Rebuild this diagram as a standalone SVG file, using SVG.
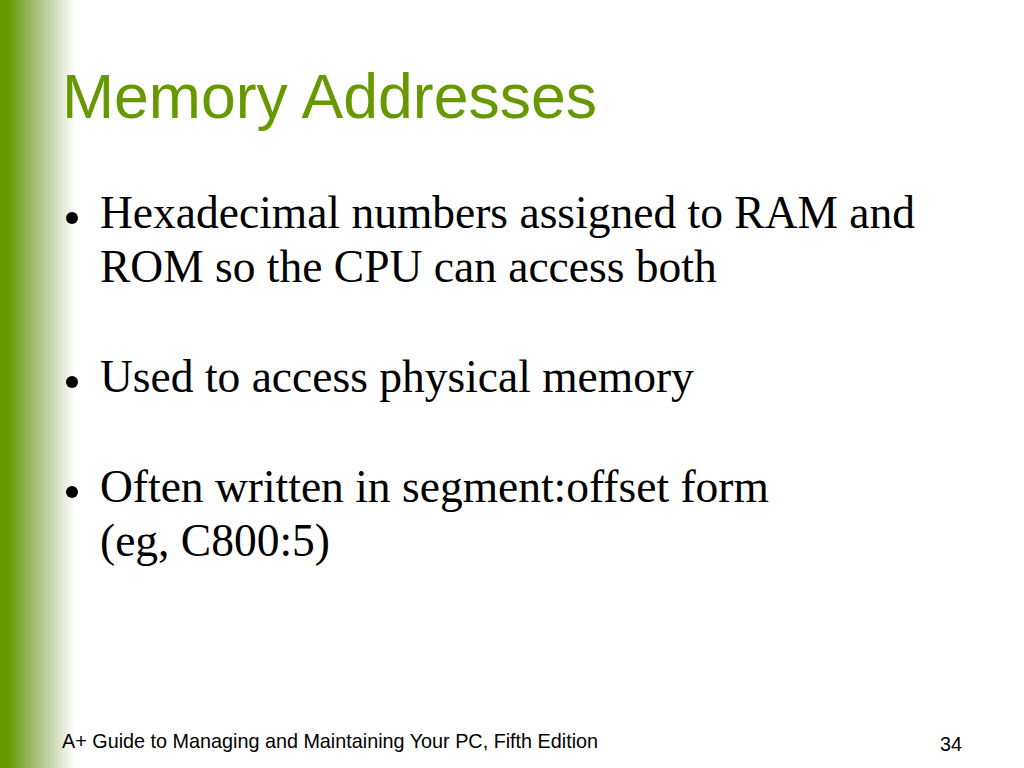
<svg xmlns="http://www.w3.org/2000/svg" width="1024" height="768" viewBox="0 0 1024 768">
<defs>
<linearGradient id="side" x1="0" y1="0" x2="1" y2="0">
<stop offset="0" stop-color="#669900"/>
<stop offset="0.1" stop-color="#669900"/>
<stop offset="0.5" stop-color="#a8c080"/>
<stop offset="1" stop-color="#ffffff"/>
</linearGradient>
</defs>
<style>
.body{font-family:"Liberation Serif","Times New Roman",serif;font-size:45.5px;fill:#000}
.foot{font-family:"Liberation Sans",Arial,sans-serif;font-size:19.8px;fill:#000}
</style>
<rect width="1024" height="768" fill="#ffffff"/>
<rect x="0" y="0" width="75" height="768" fill="url(#side)"/>
<text x="62" y="118" font-family="Liberation Sans, Arial, sans-serif" font-size="62.5" fill="#669900">Memory Addresses</text>
<g id="bullets">
<circle cx="72" cy="218" r="6"/>
<circle cx="72" cy="382" r="6"/>
<circle cx="72" cy="492" r="6"/>
</g>
<text class="body" x="100" y="228">Hexadecimal numbers assigned to RAM and</text>
<text class="body" x="100" y="282">ROM so the CPU can access both</text>
<text class="body" x="100" y="392">Used to access physical memory</text>
<text class="body" x="100" y="502">Often written in segment:offset form</text>
<text class="body" x="100" y="556">(eg, C800:5)</text>
<text class="foot" x="62" y="748">A+ Guide to Managing and Maintaining Your PC, Fifth Edition</text>
<text class="foot" x="940" y="751">34</text>
</svg>
